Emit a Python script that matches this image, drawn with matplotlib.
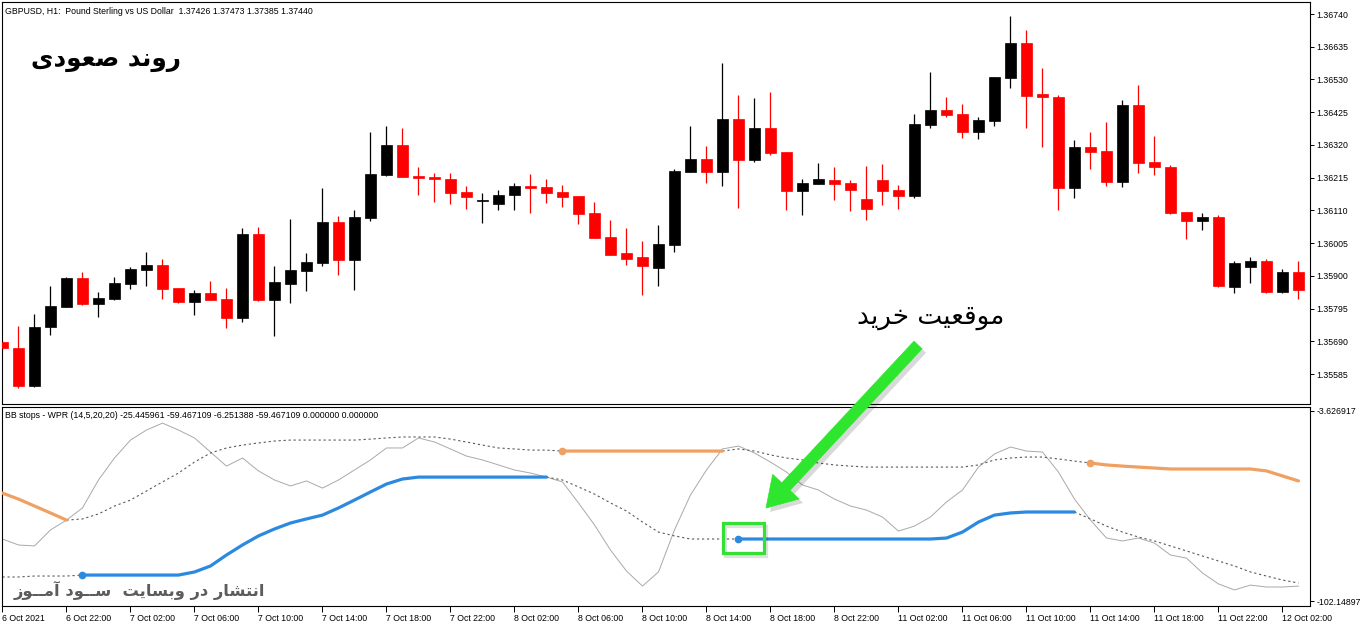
import numpy as np
import matplotlib
matplotlib.use("Agg")
import matplotlib.pyplot as plt
from matplotlib.patches import FancyArrowPatch, Rectangle

# ─────────────────────────────────────────────
# Data (GBPUSD H1)
# ─────────────────────────────────────────────
time_labels = ["6 Oct 2021", "6 Oct 22:00", "7 Oct 02:00", "7 Oct 06:00", "7 Oct 10:00",
               "7 Oct 14:00", "7 Oct 18:00", "7 Oct 22:00", "8 Oct 02:00", "8 Oct 06:00",
               "8 Oct 10:00", "8 Oct 14:00", "8 Oct 18:00", "8 Oct 22:00", "11 Oct 02:00",
               "11 Oct 06:00", "11 Oct 10:00", "11 Oct 14:00", "11 Oct 18:00", "11 Oct 22:00",
               "12 Oct 02:00"]
label_bars = [0, 4, 8, 12, 16, 20, 24, 28, 32, 36, 40, 44, 48, 52, 56, 60, 64, 68, 72, 76, 80]

opens = [1.35688, 1.35668, 1.35547, 1.35736, 1.35800, 1.35893, 1.35810, 1.35826, 1.35874, 1.35919,
         1.35935, 1.35861, 1.35816, 1.35845, 1.35826, 1.35765, 1.36034, 1.35822, 1.35874, 1.35915,
         1.35941, 1.36073, 1.35951, 1.36085, 1.36223, 1.36320, 1.36220, 1.36217, 1.36211, 1.36169,
         1.36140, 1.36130, 1.36159, 1.36188, 1.36185, 1.36169, 1.36156, 1.36102, 1.36025, 1.35973,
         1.35960, 1.35925, 1.35999, 1.36233, 1.36275, 1.36233, 1.36403, 1.36272, 1.36374, 1.36297,
         1.36172, 1.36195, 1.36207, 1.36198, 1.36146, 1.36207, 1.36175, 1.36156, 1.36384, 1.36432,
         1.36419, 1.36361, 1.36397, 1.36535, 1.36647, 1.36483, 1.36474, 1.36182, 1.36313, 1.36300,
         1.36201, 1.36448, 1.36265, 1.36249, 1.36105, 1.36076, 1.36089, 1.35864, 1.35928, 1.35948,
         1.35848, 1.35912]
highs = [1.35694, 1.35739, 1.35778, 1.35867, 1.35896, 1.35912, 1.35848, 1.35896, 1.35928, 1.35976,
         1.35954, 1.35861, 1.35854, 1.35883, 1.35861, 1.36053, 1.36057, 1.35932, 1.36082, 1.35973,
         1.36182, 1.36092, 1.36111, 1.36361, 1.36381, 1.36374, 1.36249, 1.36230, 1.36230, 1.36188,
         1.36166, 1.36175, 1.36198, 1.36227, 1.36211, 1.36191, 1.36156, 1.36137, 1.36079, 1.36053,
         1.36012, 1.36063, 1.36243, 1.36381, 1.36317, 1.36583, 1.36480, 1.36470, 1.36490, 1.36297,
         1.36211, 1.36262, 1.36249, 1.36207, 1.36252, 1.36259, 1.36191, 1.36419, 1.36554, 1.36474,
         1.36451, 1.36410, 1.36538, 1.36734, 1.36689, 1.36567, 1.36480, 1.36336, 1.36361, 1.36393,
         1.36464, 1.36512, 1.36349, 1.36256, 1.36105, 1.36102, 1.36095, 1.35948, 1.35960, 1.35954,
         1.35922, 1.35948]
lows = [1.35662, 1.35540, 1.35543, 1.35710, 1.35800, 1.35806, 1.35768, 1.35822, 1.35858, 1.35867,
        1.35826, 1.35813, 1.35774, 1.35822, 1.35733, 1.35752, 1.35819, 1.35707, 1.35813, 1.35851,
        1.35932, 1.35903, 1.35854, 1.36076, 1.36220, 1.36217, 1.36159, 1.36137, 1.36130, 1.36114,
        1.36070, 1.36111, 1.36111, 1.36102, 1.36134, 1.36121, 1.36066, 1.36021, 1.35967, 1.35935,
        1.35838, 1.35867, 1.35976, 1.36233, 1.36198, 1.36188, 1.36118, 1.36265, 1.36288, 1.36111,
        1.36095, 1.36195, 1.36143, 1.36108, 1.36079, 1.36127, 1.36114, 1.36150, 1.36374, 1.36410,
        1.36342, 1.36339, 1.36381, 1.36503, 1.36374, 1.36313, 1.36111, 1.36150, 1.36243, 1.36188,
        1.36185, 1.36230, 1.36223, 1.36098, 1.36018, 1.36047, 1.35864, 1.35845, 1.35877, 1.35845,
        1.35845, 1.35826]
closes = [1.35668, 1.35547, 1.35736, 1.35803, 1.35893, 1.35810, 1.35829, 1.35877, 1.35922, 1.35935,
          1.35858, 1.35816, 1.35845, 1.35822, 1.35765, 1.36034, 1.35822, 1.35880, 1.35919, 1.35944,
          1.36073, 1.35951, 1.36089, 1.36227, 1.36320, 1.36217, 1.36214, 1.36211, 1.36166, 1.36153,
          1.36143, 1.36159, 1.36188, 1.36182, 1.36166, 1.36153, 1.36098, 1.36021, 1.35967, 1.35954,
          1.35932, 1.36002, 1.36236, 1.36275, 1.36233, 1.36403, 1.36272, 1.36374, 1.36294, 1.36172,
          1.36198, 1.36211, 1.36195, 1.36175, 1.36114, 1.36172, 1.36156, 1.36387, 1.36432, 1.36416,
          1.36361, 1.36400, 1.36538, 1.36647, 1.36477, 1.36474, 1.36182, 1.36313, 1.36297, 1.36201,
          1.36448, 1.36262, 1.36249, 1.36102, 1.36076, 1.36089, 1.35867, 1.35941, 1.35948, 1.35848,
          1.35912, 1.35854]

price_ticks = ["1.36740", "1.36635", "1.36530", "1.36425", "1.36320", "1.36215",
               "1.36110", "1.36005", "1.35900", "1.35795", "1.35690", "1.35585"]

# BB stops - WPR sub-window
wpr = [-70.0, -73.1, -73.6, -65.3, -60.2, -53.9, -39.4, -28.0, -18.7, -13.5,
       -9.9, -13.5, -17.6, -24.9, -32.2, -28.0, -34.7, -39.4, -42.5, -39.9,
       -43.6, -39.4, -34.2, -29.0, -22.8, -22.8, -17.6, -19.7, -23.3, -27.0,
       -29.0, -31.6, -34.2, -35.8, -37.9, -40.4, -51.3, -62.7, -75.7, -86.6,
       -94.4, -87.1, -65.3, -47.2, -34.2, -23.3, -21.8, -25.4, -30.1, -35.3,
       -42.0, -44.6, -49.3, -52.9, -55.0, -58.6, -65.9, -63.3, -58.6, -50.8,
       -44.6, -32.7, -25.9, -22.3, -24.4, -24.9, -35.3, -49.3, -60.2, -69.5,
       -71.0, -69.5, -72.1, -78.3, -79.9, -87.6, -93.3, -96.4, -93.9, -94.9,
       -94.9, -94.4]
upper_stop = [-46.2, -49.3, -52.9, -56.5, -60.2, -59.6, -57.0, -52.9, -49.8, -45.1,
              -40.4, -35.8, -30.1, -25.4, -22.8, -21.3, -20.2, -19.2, -18.7, -18.7,
              -18.7, -18.7, -18.7, -18.2, -17.6, -17.1, -17.1, -17.1, -18.2, -19.7,
              -21.3, -22.8, -23.3, -23.9, -23.9, -24.4, -24.4, -24.4, -24.4, -24.4,
              -24.4, -24.4, -24.4, -24.4, -24.4, -24.4, -23.3, -24.4, -26.4, -28.0,
              -29.0, -30.6, -31.6, -32.2, -32.7, -32.7, -32.7, -32.7, -32.7, -32.7,
              -32.7, -31.6, -29.0, -28.0, -27.5, -27.5, -28.5, -29.6, -30.6, -31.6,
              -32.2, -32.7, -33.2, -33.7, -33.7, -33.7, -33.7, -33.7, -33.7, -34.7,
              -37.3, -39.9]
lower_stop = [-89.7, -89.7, -89.2, -89.2, -89.2, -88.7, -88.7, -88.7, -88.7, -88.7,
              -88.7, -88.7, -87.1, -84.0, -78.3, -73.1, -68.4, -64.8, -61.7, -59.6,
              -57.6, -53.9, -49.8, -45.6, -41.5, -38.9, -37.9, -37.9, -37.9, -37.9,
              -37.9, -37.9, -37.9, -37.9, -37.9, -39.4, -43.0, -46.7, -51.3, -55.5,
              -61.2, -66.4, -68.4, -70.0, -70.0, -70.0, -70.0, -70.0, -70.0, -70.0,
              -70.0, -70.0, -70.0, -70.0, -70.0, -70.0, -70.0, -70.0, -70.0, -69.5,
              -66.4, -61.2, -57.6, -56.5, -56.0, -56.0, -56.0, -56.0, -59.6, -63.3,
              -66.4, -69.0, -71.0, -73.6, -76.2, -78.8, -81.4, -84.0, -87.1, -89.2,
              -91.3, -92.8]
down_runs = [(0, 4), (35, 45), (68, 81)]   # orange stop active
up_runs = [(5, 34), (46, 67)]              # blue stop active
ind_ticks = [-3.626917, -102.14897]

header = "GBPUSD, H1:  Pound Sterling vs US Dollar  1.37426 1.37473 1.37385 1.37440"
ind_header = ("BB stops - WPR (14,5,20,20) -25.445961 -59.467109 -6.251388 "
              "-59.467109 0.000000 0.000000")
title_fa = "روند صعودی"
buy_fa = "موقعیت خرید"
mark_fa = "انتشار در وبسایت  ســود آمــوز"

# ─────────────────────────────────────────────
# Persian shaping (matplotlib draws glyphs one by one, left to right)
# ─────────────────────────────────────────────
FORMS = {  # isolated, final, initial, medial
    "ا": ("\uFE8D", "\uFE8E", None, None),
    "آ": ("\uFE81", "\uFE82", None, None),
    "ب": ("\uFE8F", "\uFE90", "\uFE91", "\uFE92"),
    "ت": ("\uFE95", "\uFE96", "\uFE97", "\uFE98"),
    "خ": ("\uFEA5", "\uFEA6", "\uFEA7", "\uFEA8"),
    "د": ("\uFEA9", "\uFEAA", None, None),
    "ر": ("\uFEAD", "\uFEAE", None, None),
    "ز": ("\uFEAF", "\uFEB0", None, None),
    "س": ("\uFEB1", "\uFEB2", "\uFEB3", "\uFEB4"),
    "ش": ("\uFEB5", "\uFEB6", "\uFEB7", "\uFEB8"),
    "ص": ("\uFEB9", "\uFEBA", "\uFEBB", "\uFEBC"),
    "ع": ("\uFEC9", "\uFECA", "\uFECB", "\uFECC"),
    "ق": ("\uFED5", "\uFED6", "\uFED7", "\uFED8"),
    "م": ("\uFEE1", "\uFEE2", "\uFEE3", "\uFEE4"),
    "ن": ("\uFEE5", "\uFEE6", "\uFEE7", "\uFEE8"),
    "و": ("\uFEED", "\uFEEE", None, None),
    "ی": ("\uFBFC", "\uFBFD", "\uFBFE", "\uFBFF"),
    "ـ": ("ـ", "ـ", "ـ", "ـ"),
}


def shape(s):
    out = []
    for i, ch in enumerate(s):
        if ch not in FORMS:
            out.append(ch)
            continue
        prev = s[i - 1] if i > 0 else None
        nxt = s[i + 1] if i + 1 < len(s) else None
        join_prev = prev in FORMS and FORMS[prev][2] is not None
        join_next = FORMS[ch][2] is not None and nxt in FORMS
        iso, fin, ini, med = FORMS[ch]
        if join_prev and join_next:
            out.append(med)
        elif join_prev:
            out.append(fin)
        elif join_next:
            out.append(ini)
        else:
            out.append(iso)
    return "".join(reversed(out))


# ─────────────────────────────────────────────
# Figure / axes (pixel layout of the MT5 window)
# ─────────────────────────────────────────────
plt.rcParams["font.family"] = ["Liberation Sans", "DejaVu Sans"]
W, H = 1362, 628
fig = plt.figure(figsize=(W / 100, H / 100), dpi=100)
fig.patch.set_facecolor("white")

ax = fig.add_axes([2 / W, 1 - 404 / H, 1308 / W, 402 / H])
ind = fig.add_axes([2 / W, 1 - 606 / H, 1308 / W, 199 / H])

x = np.arange(len(opens))
o, h, l, c = (np.array(v) for v in (opens, highs, lows, closes))
xlim = (-0.03, 81.72)

# candles
col = np.where(c >= o, "black", "#ff0000")
ax.vlines(x, l, h, colors=col, lw=0.9, zorder=2)
body_lo = np.minimum(o, c)
body_h = np.maximum(np.abs(c - o), 0.00002)
ax.bar(x, body_h, bottom=body_lo, width=0.69, color=col, edgecolor=col, lw=0.5, zorder=3)

ax.set_xlim(*xlim)
ax.set_ylim(1.354888, 1.367785)
ax.set_xticks([])
ax.yaxis.tick_right()
ax.set_yticks([float(t) for t in price_ticks])
ax.set_yticklabels(price_ticks)

# indicator
wpr = np.array(wpr)
upper_stop = np.array(upper_stop)
lower_stop = np.array(lower_stop)
dn = np.zeros(len(x), bool)
upm = np.zeros(len(x), bool)
for a, b in down_runs:
    dn[a:b + 1] = True
for a, b in up_runs:
    upm[a:b + 1] = True


def dash_mask(active):
    off = ~active
    m = off.copy()
    m[1:] |= off[:-1]
    m[:-1] |= off[1:]
    return m


ind.plot(x, wpr, color="#a9a9a9", lw=0.7, zorder=2)
ind.plot(x, np.where(dash_mask(dn), upper_stop, np.nan), color="#5a5a5a",
         lw=0.8, dashes=(2, 2.5), zorder=2)
ind.plot(x, np.where(dash_mask(upm), lower_stop, np.nan), color="#5a5a5a",
         lw=0.8, dashes=(2, 2.5), zorder=2)
ind.plot(x, np.where(dn, upper_stop, np.nan), color="#f0a060", lw=2.3,
         solid_capstyle="round", zorder=3)
ind.plot(x, np.where(upm, lower_stop, np.nan), color="#2b8ae0", lw=2.3,
         solid_capstyle="round", zorder=3)
for a, b in down_runs:
    if a > 0:
        ind.plot(x[a], upper_stop[a], "o", ms=4.5, color="#f0a060", zorder=4)
for a, b in up_runs:
    ind.plot(x[a], lower_stop[a], "o", ms=4.5, color="#2b8ae0", zorder=4)

ind.set_xlim(*xlim)
ind.set_ylim(-104.74, -1.553)
ind.yaxis.tick_right()
ind.set_yticks(ind_ticks)
ind.set_yticklabels(["-3.626917", "-102.14897"])
ind.set_xticks(label_bars)
ind.set_xticklabels(time_labels, ha="left")

for a_ in (ax, ind):
    a_.set_facecolor("white")
    for sp in a_.spines.values():
        sp.set_color("black")
        sp.set_linewidth(0.8)
    a_.tick_params(axis="y", direction="out", length=3, width=0.7, pad=1.5,
                   labelsize=6.3, colors="black")
ind.tick_params(axis="x", direction="out", length=4, width=0.7, pad=1.5,
                labelsize=6.3, colors="black")

# headers
fig.text(5 / W, 1 - 11 / H, header, fontsize=6.3, va="center", ha="left")
fig.text(5 / W, 1 - 415 / H, ind_header, fontsize=6.3, va="center", ha="left")

# Persian annotations
fig.text(106 / W, 1 - 60 / H, shape(title_fa), fontsize=17.7, fontweight="bold",
         family="DejaVu Sans", ha="center", va="center")
fig.text(931 / W, 1 - 317 / H, shape(buy_fa), fontsize=19,
         family="DejaVu Sans", ha="center", va="center")
fig.text(139 / W, 1 - 590 / H, shape(mark_fa), fontsize=11.7, fontweight="bold",
         family="DejaVu Sans", ha="center", va="center", color="#5c5c5c")

# arrow and box in pixel space
over = fig.add_axes([0, 0, 1, 1])
over.set_xlim(0, W)
over.set_ylim(H, 0)
over.axis("off")
style = "simple,head_length=21,head_width=26,tail_width=8"
over.add_patch(FancyArrowPatch((922, 349), (770, 512), arrowstyle=style, mutation_scale=1,
                               shrinkA=0, shrinkB=0, color="black", alpha=0.15, lw=0))
over.add_patch(FancyArrowPatch((918, 345), (766, 508), arrowstyle=style, mutation_scale=1,
                               shrinkA=0, shrinkB=0, color="#2ee62e", lw=0.5,
                               joinstyle="round", capstyle="round"))
over.add_patch(Rectangle((725, 526), 41, 30, fill=False, ec="black", alpha=0.12, lw=2.4))
over.add_patch(Rectangle((723, 523), 41, 30, fill=False, ec="#33e033", lw=2.3))

fig.savefig("out.png", dpi=100, facecolor="white")
